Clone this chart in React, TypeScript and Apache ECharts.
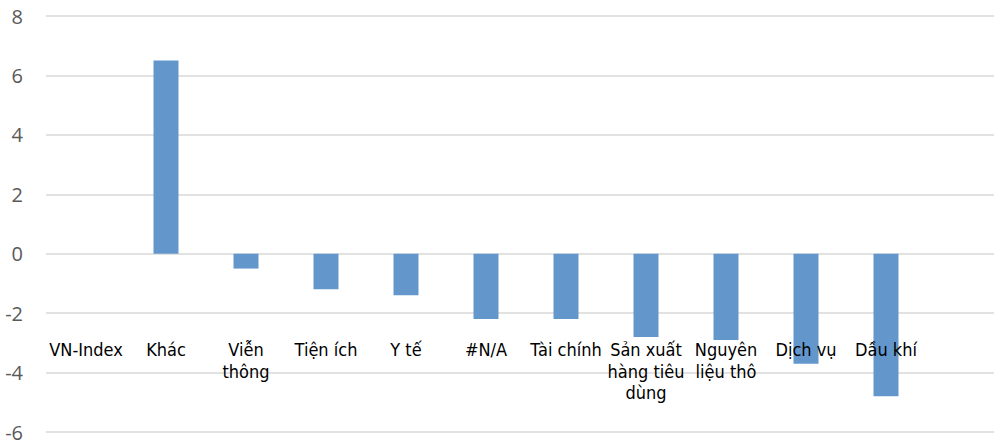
import React, { useEffect, useRef } from "react";
import * as echarts from "echarts";

const categories = [
  "VN-Index",
  "Khác",
  "Viễn\nthông",
  "Tiện ích",
  "Y tế",
  "#N/A",
  "Tài chính",
  "Sản xuất\nhàng tiêu\ndùng",
  "Nguyên\nliệu thô",
  "Dịch vụ",
  "Dầu khí",
  "",
];
const values: (number | null)[] = [0, 6.5, -0.5, -1.2, -1.4, -2.2, -2.2, -2.8, -2.9, -3.7, -4.8, null];
const yMin = -6;
const yMax = 8;
const yInterval = 2;

export default function App() {
  const ref = useRef<HTMLDivElement>(null);
  useEffect(() => {
    if (!ref.current) return;
    const chart = echarts.init(ref.current, undefined, { renderer: "svg" });
    chart.setOption({
      animation: false,
      backgroundColor: "#ffffff",
      grid: {
        left: 46,
        right: -12,
        top: 16,
        bottom: 11,
        containLabel: false,
        outerBoundsMode: "none",
      },
      xAxis: {
        type: "category",
        data: categories,
        boundaryGap: true,
        z: 5,
        axisLine: { show: false, onZero: false },
        axisTick: { show: false },
        axisLabel: {
          interval: 0,
          margin: -93,
          color: "#000000",
          fontSize: 18,
          lineHeight: 21.5,
          fontFamily: "'DejaVu Sans Condensed', 'DejaVu Sans', sans-serif",
          align: "center",
          verticalAlign: "top",
        },
        splitLine: { show: false },
      },
      yAxis: {
        type: "value",
        min: yMin,
        max: yMax,
        interval: yInterval,
        axisLine: { show: false },
        axisTick: { show: false },
        axisLabel: {
          margin: 23,
          color: "#595959",
          fontSize: 20,
          lineHeight: 16,
          fontFamily: "'Open Sans', sans-serif",
        },
        splitLine: { show: true, lineStyle: { color: "#d9d9d9", width: 1.5 } },
      },
      series: [
        {
          type: "bar",
          data: values,
          barWidth: 25,
          itemStyle: { color: "#6397cc", borderWidth: 0 },
        },
      ],
    });
    return () => chart.dispose();
  }, []);
  return <div ref={ref} style={{ width: 994, height: 443, position: "absolute", left: 0, top: 0 }} />;
}
